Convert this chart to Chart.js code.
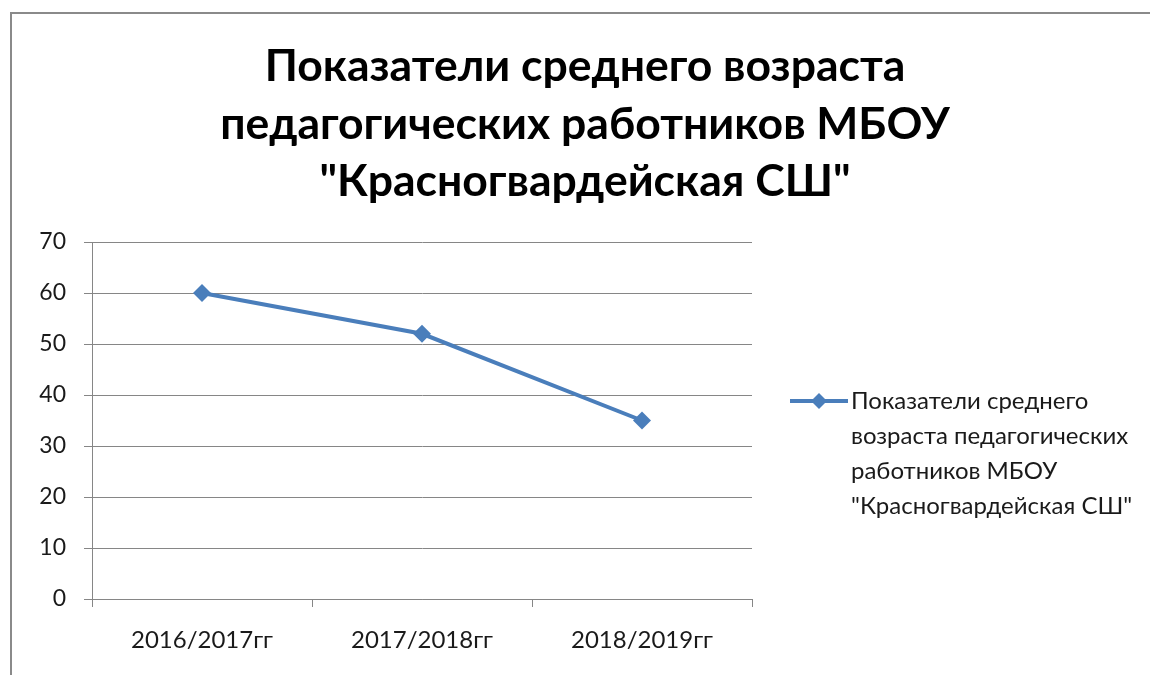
<!DOCTYPE html>
<html>
<head>
<meta charset="utf-8">
<script src="https://cdn.jsdelivr.net/npm/chart.js@4.4.0/dist/chart.umd.min.js"></script>
<style>
  html, body { margin: 0; padding: 0; background: #fff; }
  #wrap { width: 1150px; height: 675px; }
</style>
</head>
<body>
<div id="wrap"><canvas id="chart" width="1150" height="675"></canvas></div>
<script>
// data
const categories = ["2016/2017гг", "2017/2018гг", "2018/2019гг"];
const ageValues = [60, 52, 35];
const yMin = 0;
const yMax = 70;
const yStep = 10;
const seriesLabel = 'Показатели среднего возраста педагогических работников МБОУ "Красногвардейская СШ"';
const legendLines = ["Показатели среднего", "возраста педагогических", "работников МБОУ", '"Красногвардейская СШ"'];
const titleLines = ["Показатели среднего возраста", "педагогических работников МБОУ", '"Красногвардейская СШ"'];

const FONT = "Lato, 'Open Sans', sans-serif";
const LINE_COLOR = "#4A7EBB";
const GRID_COLOR = "#868686";

// frame + title + legend drawn on the canvas
const decorPlugin = {
  id: "decor",
  beforeDraw(chart) {
    const ctx = chart.ctx;
    ctx.save();
    ctx.fillStyle = "#fff";
    ctx.fillRect(0, 0, chart.width, chart.height);
    ctx.strokeStyle = "#8a8a8a";
    ctx.lineWidth = 2;
    ctx.beginPath();
    ctx.moveTo(11, chart.height);
    ctx.lineTo(11, 13);
    ctx.lineTo(chart.width, 13);
    ctx.stroke();
    ctx.restore();
  },
  afterDraw(chart) {
    const ctx = chart.ctx;
    ctx.save();
    // title
    ctx.fillStyle = "#000";
    ctx.font = "bold 44.5px " + FONT;
    ctx.textAlign = "center";
    ctx.textBaseline = "middle";
    titleLines.forEach((t, i) => ctx.fillText(t, 585, 67 + i * 57.5));

    // legend
    const ds = chart.data.datasets[0];
    const ly = 401;
    ctx.strokeStyle = ds.borderColor;
    ctx.lineWidth = 4;
    ctx.beginPath();
    ctx.moveTo(790, ly);
    ctx.lineTo(848, ly);
    ctx.stroke();
    ctx.fillStyle = ds.borderColor;
    ctx.beginPath();
    ctx.moveTo(819, ly - 8);
    ctx.lineTo(827, ly);
    ctx.lineTo(819, ly + 8);
    ctx.lineTo(811, ly);
    ctx.closePath();
    ctx.fill();
    ctx.fillStyle = "#1a1a1a";
    ctx.font = "24px " + FONT;
    ctx.textAlign = "left";
    ctx.textBaseline = "middle";
    legendLines.forEach((t, i) => ctx.fillText(t, 851, ly + i * 35));
    ctx.restore();
  }
};

new Chart(document.getElementById("chart"), {
  type: "line",
  data: {
    labels: categories,
    datasets: [{
      label: seriesLabel,
      data: ageValues,
      borderColor: LINE_COLOR,
      backgroundColor: LINE_COLOR,
      borderWidth: 4,
      tension: 0,
      pointStyle: "rectRot",
      pointRadius: 9,
      pointBorderWidth: 0,
      pointBackgroundColor: LINE_COLOR,
      clip: false
    }]
  },
  options: {
    responsive: false,
    animation: false,
    layout: { padding: { left: 0, top: 242, right: 398, bottom: 0 } },
    plugins: {
      legend: { display: false },
      title: { display: false },
      tooltip: { enabled: false }
    },
    scales: {
      x: {
        offset: true,
        afterFit(s) { s.height = 76; },
        grid: {
          offset: true,
          drawOnChartArea: false,
          drawTicks: true,
          tickLength: 8,
          color: GRID_COLOR
        },
        border: { display: true, color: GRID_COLOR, width: 1 },
        ticks: {
          padding: 19,
          color: "#1a1a1a",
          font: { family: FONT, size: 24 }
        }
      },
      y: {
        min: yMin,
        max: yMax,
        afterFit(s) { s.width = 92; },
        grid: {
          drawTicks: true,
          tickLength: 8,
          color: GRID_COLOR
        },
        border: { display: true, color: GRID_COLOR, width: 1 },
        ticks: {
          stepSize: yStep,
          padding: 18,
          color: "#1a1a1a",
          font: { family: FONT, size: 23 }
        }
      }
    }
  },
  plugins: [decorPlugin]
});
</script>
</body>
</html>
